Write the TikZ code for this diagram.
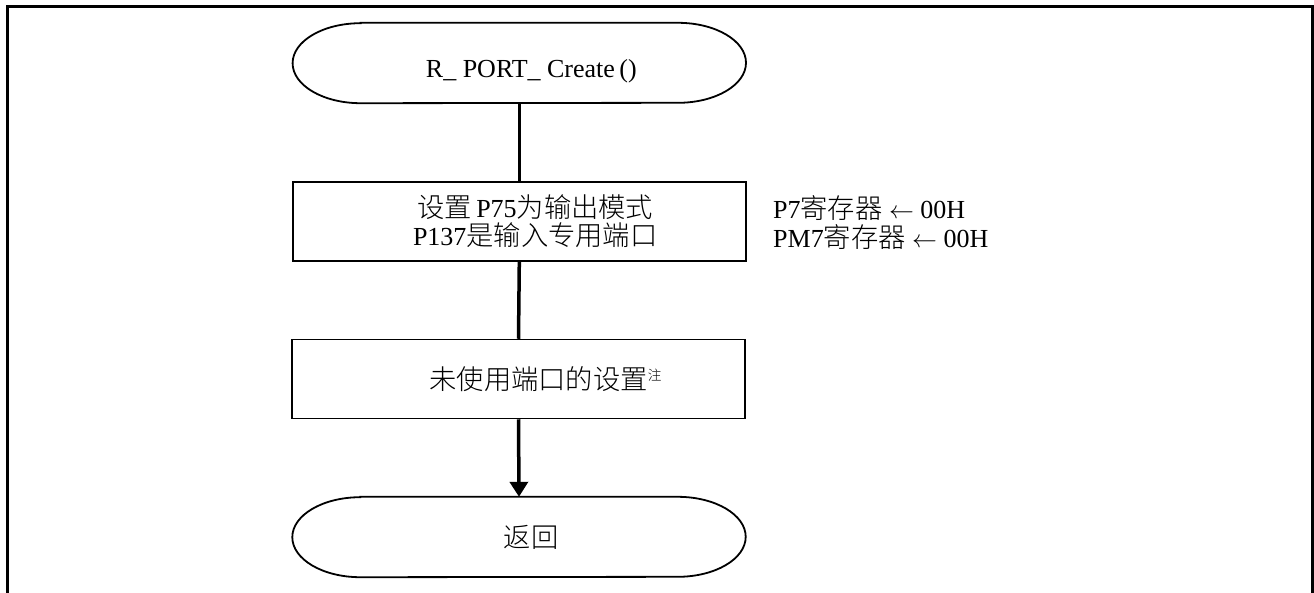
\documentclass[tikz,border=0pt]{standalone}
\usepackage{fontspec}
\setmainfont{Liberation Serif}
\newfontfamily\cjk{Noto Sans CJK SC}[Scale=1.05,UprightFont=* Light]
\usetikzlibrary{arrows.meta,calc}
\tikzset{
  term/.style={minimum width=453pt,minimum height=80pt,inner sep=0pt,font=\fontsize{26}{28}\selectfont},
  procbox/.style={draw,line width=1.5pt,minimum width=453pt,minimum height=79pt,inner sep=0pt,align=center,font=\fontsize{26}{28}\selectfont},
  flow/.style={line width=3.5pt},
  note/.style={anchor=west,inner sep=0pt,font=\fontsize{26}{28}\selectfont},
}
\newcommand{\stadium}[1]{%
  \draw[line width=1.8pt] ($(#1.north west)+(68,0)$) -- ($(#1.north east)+(-68,0)$)
    arc[start angle=-90,end angle=90,x radius=68,y radius=40]
    -- ($(#1.south west)+(68,0)$)
    arc[start angle=90,end angle=270,x radius=68,y radius=40] -- cycle;}
\begin{document}
\begin{tikzpicture}[x=1pt,y=-1pt]
\useasboundingbox (0,0) rectangle (1314,592);
\clip (0,0) rectangle (1314,592);
\draw[line width=3pt] (7,620) -- (7,6.5) -- (1312.5,6.5) -- (1312.5,620);
\node[term,label={[xshift=12pt,yshift=-8pt,inner sep=0pt,font=\fontsize{26}{28}\selectfont]center:R\_ PORT\_ Create\,()}] (s) at (519.3,63) {};
\stadium{s}
\node[procbox] (b1) at (519.3,221.5) {\hspace*{32pt}{\cjk 设置}\,P75{\cjk 为输出模式}\\\hspace*{32pt}P137{\cjk 是输入专用端口}};
\node[note] (n1) at (773,208) {P7{\cjk 寄存器} $\leftarrow$ 00H};
\node[note] (n2) at (773,237) {PM7{\cjk 寄存器} $\leftarrow$ 00H};
\node[procbox] (b2) at (518.5,379) {\hspace*{54pt}{\cjk 未使用端口的设置}\raisebox{9pt}{\fontsize{13}{13}\selectfont\cjk 注}};
\node[term] (e) at (519,537) {\hspace*{24pt}{\cjk 返回}};
\stadium{e}
\draw[flow] (s.south) -- (b1.north);
\draw[flow] (b1.south) -- (b2.north);
\draw[flow,-{Triangle[width=18pt,length=15pt]}] (b2.south) -- (e.north);
\end{tikzpicture}
\end{document}
